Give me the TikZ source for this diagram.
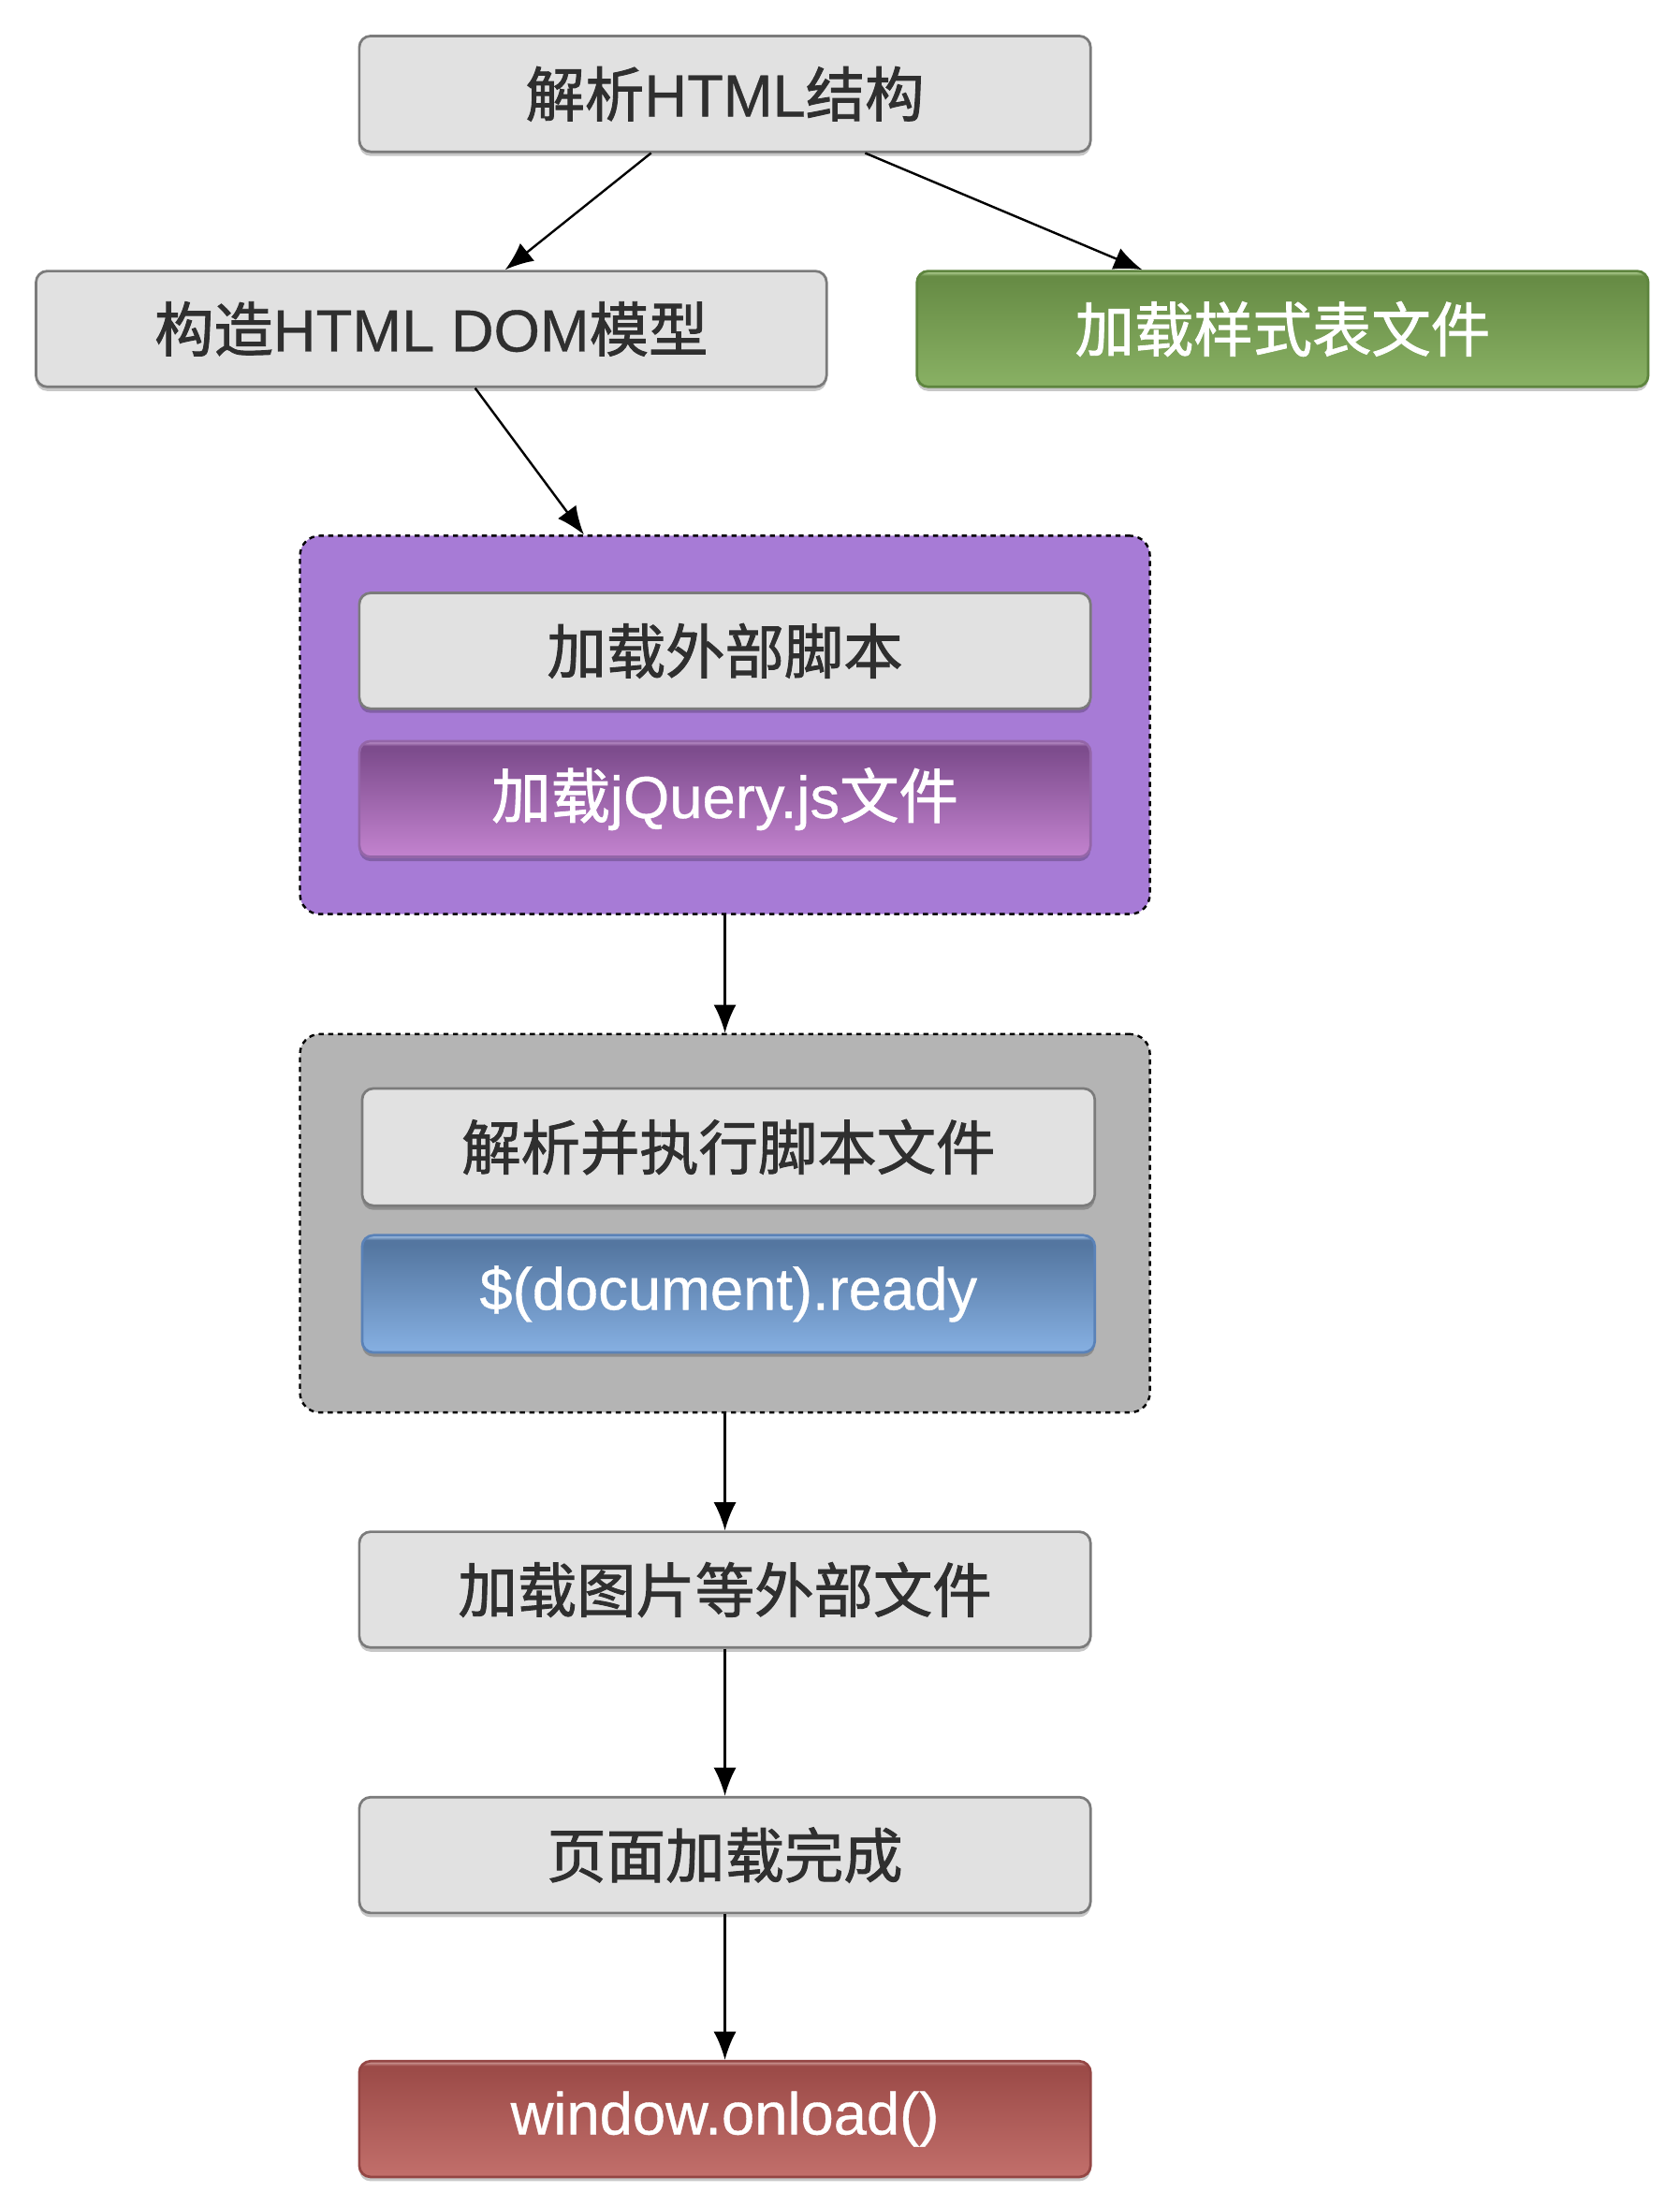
\documentclass[tikz,border=0pt]{standalone}
\usepackage{fontspec}
\setmainfont[FakeBold=0.6]{Liberation Sans}
\newfontfamily\cjk[FakeBold=1.4]{Noto Sans CJK SC}
\usetikzlibrary{arrows.meta,shadows}
\definecolor{boxfill}{HTML}{E1E1E1}
\definecolor{boxborder}{HTML}{7B7B7B}
\definecolor{textdark}{HTML}{2F2F2F}
\definecolor{purplegrp}{HTML}{A77BD6}
\definecolor{graygrp}{HTML}{B4B4B4}
\definecolor{gB}{HTML}{89B164}
\definecolor{gT}{HTML}{678C45}
\definecolor{gH}{HTML}{A8C78A}
\definecolor{gBorder}{HTML}{5E853E}
\definecolor{pB}{HTML}{C383CF}
\definecolor{pT}{HTML}{7D4C8D}
\definecolor{pH}{HTML}{B58AC4}
\definecolor{pBorder}{HTML}{9466A8}
\definecolor{bB}{HTML}{86B0E2}
\definecolor{bT}{HTML}{5476A0}
\definecolor{bH}{HTML}{9AB8DC}
\definecolor{bBorder}{HTML}{5A82B8}
\definecolor{rB}{HTML}{C26F6B}
\definecolor{rT}{HTML}{9C4B48}
\definecolor{rH}{HTML}{C99491}
\definecolor{rBorder}{HTML}{944644}
\pgfdeclareverticalshading{greenshade}{100bp}{color(0bp)=(gB); color(25bp)=(gB); color(71bp)=(gT); color(73bp)=(gT); color(74.5bp)=(gH); color(100bp)=(gH)}
\pgfdeclareverticalshading{purpleshade}{100bp}{color(0bp)=(pB); color(25bp)=(pB); color(71bp)=(pT); color(73bp)=(pT); color(74.5bp)=(pH); color(100bp)=(pH)}
\pgfdeclareverticalshading{blueshade}{100bp}{color(0bp)=(bB); color(25bp)=(bB); color(71bp)=(bT); color(73bp)=(bT); color(74.5bp)=(bH); color(100bp)=(bH)}
\pgfdeclareverticalshading{redshade}{100bp}{color(0bp)=(rB); color(25bp)=(rB); color(71bp)=(rT); color(73bp)=(rT); color(74.5bp)=(rH); color(100bp)=(rH)}
\begin{document}
\begin{tikzpicture}[x=0.5pt,y=-0.5pt,
  box/.style={rectangle, rounded corners=4pt, minimum width=259pt, minimum height=41pt,
    line width=0.9pt, inner sep=0pt, font=\fontsize{21}{25}\selectfont,
    drop shadow={shadow xshift=0pt, shadow yshift=-1.5pt, opacity=0.22, fill=black}},
  graybox/.style={box, draw=boxborder, fill=boxfill, text=textdark},
  greenbox/.style={box, draw=gBorder, shading=greenshade, text=white},
  purplebox/.style={box, draw=pBorder, shading=purpleshade, text=white},
  bluebox/.style={box, draw=bBorder, shading=blueshade, text=white},
  redbox/.style={box, draw=rBorder, shading=redshade, text=white},
  group/.style={rectangle, rounded corners=7pt, minimum width=301pt, minimum height=134pt,
    draw=black, line width=0.8pt, dash pattern=on 1.8pt off 1.6pt},
  arr/.style={-{Latex[length=10pt,width=8pt]}, line width=0.8pt, black}]
\fill[white] (0,0) rectangle (1190,1562.6);
\useasboundingbox (0,0) rectangle (1190,1562.6);

\node[graybox] (A) at (513.5,66.5) {{\cjk 解析}HTML{\cjk 结构}};
\node[graybox, minimum width=280pt] (B) at (305.5,233) {{\cjk 构造}HTML DOM{\cjk 模型}};
\node[greenbox] (C) at (908.5,233) {{\cjk 加载样式表文件}};

\node[group, fill=purplegrp] (grpP) at (513.5,513.5) {};
\node[graybox] (D) at (513.5,461) {{\cjk 加载外部脚本}};
\node[purplebox] (E) at (513.5,566) {{\cjk 加载}jQuery.js{\cjk 文件}};

\node[group, fill=graygrp] (grpG) at (513.5,866.5) {};
\node[graybox, minimum width=259.5pt, minimum height=41.5pt] (F) at (516,812.5) {{\cjk 解析并执行脚本文件}};
\node[bluebox, minimum width=259.5pt, minimum height=41.5pt] (G) at (516,916.5) {\$(document).ready};

\node[graybox] (H) at (513.5,1126) {{\cjk 加载图片等外部文件}};
\node[graybox] (I) at (513.5,1314) {{\cjk 页面加载完成}};
\node[redbox] (J) at (513.5,1501) {window.onload()};

\draw[arr] (A) -- (B);
\draw[arr] (A) -- (C);
\draw[arr] (B) -- (grpP);
\draw[arr] (grpP) -- (grpG);
\draw[arr] (grpG) -- (H);
\draw[arr] (H) -- (I);
\draw[arr] (I) -- (J);
\end{tikzpicture}
\end{document}
